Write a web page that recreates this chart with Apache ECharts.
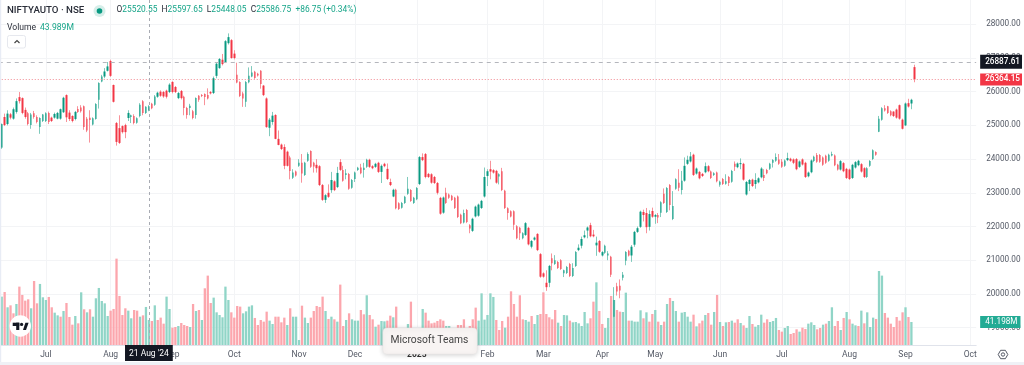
<!DOCTYPE html>
<html>
<head>
<meta charset="utf-8">
<style>html,body{margin:0;padding:0;background:#fff}#c{width:1024px;height:365px;filter:blur(0.35px)}</style>
<script src="https://cdn.jsdelivr.net/npm/echarts@6/dist/echarts.min.js"></script>
</head>
<body>
<div id="c"></div>
<script>
const opens = [
24340,25250,25040,25330,25200,25400,25840,25810,25460,25360,
25010,25360,25250,24950,25130,25130,25370,25230,25230,25200,
25200,25390,25900,25380,25280,25190,25490,25530,25570,25200,
25230,25030,25190,25760,26300,26450,26620,26910,26200,25070,
24920,24980,25010,25220,25250,25280,25080,25280,25720,25370,
25450,25640,25610,25850,26000,25990,26030,25990,26290,26140,
25810,26020,25850,25520,25520,25420,25310,25880,25900,25930,
25900,25990,25960,26470,26700,26950,26880,27440,27530,27130,
26500,26290,25950,25700,26280,26450,26590,26530,26620,26180,
25800,24930,25100,25310,24600,24430,24360,24220,24050,23450,
23630,23800,23890,23530,23950,24240,23890,23830,23790,23230,
22790,23000,23080,23340,23170,23910,23680,23530,23560,23150,
23410,23680,23750,23680,23770,23980,23790,23770,23890,23620,
23860,23710,23320,22890,23090,22690,22560,22700,22970,23080,
22700,22810,23260,24060,24150,23560,23550,23470,23290,22850,
22410,23000,22950,22910,22850,22890,22350,22120,22490,22040,
21870,22300,22320,22550,22890,23500,23700,23670,23650,23480,
23640,23060,22540,22450,22450,22010,21960,21650,21750,21960,
21400,21610,21780,21180,20610,20330,20330,21060,20890,20950,
21000,20610,20620,20890,20530,20830,21300,21430,21680,21880,
22040,21760,21440,21570,21140,21220,21140,21100,19320,20230,
20240,20480,20980,21280,21140,21460,21840,21990,22430,22400,
21990,22460,22290,22340,22410,22970,22430,23230,22220,23120,
23300,23080,23360,23860,23930,24130,23570,23620,23560,23610,
23790,23630,23530,23600,23240,23410,23270,23470,23330,23860,
23760,23850,23860,22950,23260,23390,23260,23310,23460,23530,
23680,23710,23890,23950,23990,23920,23800,23970,24010,23990,
24000,23770,23990,23890,23490,23610,23940,24120,24120,24050,
24100,23950,24110,24110,23830,23690,23880,23710,23690,23440,
23750,23820,23850,23730,23470,23800,24000,24210,24810,25170,
25510,25570,25420,25410,25470,25600,25170,25000,25660,25650,26730];
const closes = [
25040,25010,25350,25230,25480,25720,25720,25370,25250,25040,
25320,25250,25100,25220,25320,25360,25100,25130,25340,25370,
25480,25820,25240,25190,25130,25400,25400,25420,24950,24850,
25160,25210,25635,26260,26450,26600,26750,26470,25700,24510,
24480,24800,24800,25370,25300,25070,25210,25610,25370,25550,
25570,25510,25860,25970,25880,25860,25850,26210,25990,25990,
25960,25810,25520,25310,25580,25220,25810,25760,25870,25840,
25800,25950,26400,26830,26970,26820,27500,27620,27000,27000,
26270,25870,25800,26290,26470,26570,26410,26480,26230,25900,
24950,25170,25290,24600,24420,24300,23800,23800,23650,23600,
23510,23890,23570,23890,24150,23770,23780,23730,23230,22790,
22930,22880,23380,23080,23590,23680,23360,23580,23120,23380,
23600,23740,23580,23740,23980,23770,23730,23860,23620,23800,
23790,23410,23230,23090,22540,22520,22700,22880,23120,22760,
22850,23140,24060,23970,23470,23470,23300,23290,23000,22380,
22860,22700,22850,22790,22550,22280,22100,22400,22130,21940,
22230,22590,22650,22760,23470,23640,23630,23600,23300,23550,
23080,22550,22400,22300,22050,21650,21800,21800,22100,21470,
21570,21670,21300,20510,20510,20200,20830,20910,21000,20770,
20740,20700,20800,20530,20770,21240,21370,21630,21740,21970,
21710,21710,21520,21250,21240,21430,21200,20570,19820,20070,
20100,20570,21240,21140,21400,21840,21950,22440,22340,21980,
22370,22290,22340,22270,22720,22700,23140,22640,22610,23400,
23150,23360,23800,23980,24080,23530,23720,23430,23500,23790,
23640,23440,23580,23340,23330,23260,23340,23290,23650,23770,
23870,23880,23390,23320,23380,23200,23380,23430,23720,23440,
23580,23860,23970,24060,23860,23770,23960,24030,23950,23890,
23700,23930,23840,23470,23600,23960,24070,23920,23920,23830,
23890,24130,24150,23820,23690,23940,23640,23440,23410,23830,
23910,23950,23630,23470,23730,23940,24260,24130,25200,25510,
25440,25370,25300,25280,25230,25200,24900,25650,25560,25760,26364.15];
const lows = [
24300,24980,25000,25180,25170,25350,25650,25330,25200,25000,
24900,25200,25060,24750,25100,25100,25040,25100,25200,25180,
25170,25370,25100,25130,25090,25150,25370,25380,24870,24800,
24490,25000,25170,25500,26280,26400,26600,26440,25680,24400,
24450,24760,24620,25130,25070,25030,25050,25240,25300,25340,
25420,25480,25580,25820,25850,25820,25800,25960,25950,25960,
25780,25770,25300,25200,25300,25180,25200,25700,25840,25600,
25770,25920,25930,26400,26680,26780,26850,27400,26980,26960,
26250,25840,25550,25550,26250,26430,26380,26450,26090,25870,
24930,24680,25020,24590,24410,24270,23700,23780,23400,23410,
23480,23770,23300,23500,23920,23740,23600,23600,23200,22760,
22700,22850,23000,23050,23140,23650,23330,23400,23090,23120,
23320,23650,23550,23450,23740,23740,23700,23740,23590,23290,
23760,23380,23200,22870,22510,22490,22530,22670,22940,22730,
22670,22780,23230,23940,23430,23440,23270,23260,22950,22350,
22380,22670,22820,22760,22520,22250,22070,22090,22100,21800,
21840,22270,22290,22520,22860,23200,23400,23570,23270,23250,
23050,22520,22200,22270,21900,21620,21600,21620,21720,21440,
21350,21580,21270,20480,20480,20090,20200,20700,20860,20740,
20710,20500,20590,20500,20500,20800,21270,21350,21650,21650,
21680,21680,21130,21220,21110,21190,21000,20500,19300,19950,
19870,20400,20850,21110,20950,21400,21810,21960,22150,21800,
21880,22260,22080,22100,22280,22670,22400,22480,22190,23090,
23050,22950,23330,23830,23900,23500,23540,23400,23470,23580,
23610,23410,23500,23310,23180,23230,23240,23200,23300,23650,
23730,23700,23360,22920,23050,23170,23120,23280,23430,23350,
23550,23680,23750,23920,23830,23740,23770,23940,23920,23850,
23670,23740,23810,23440,23460,23580,23910,23890,23890,23800,
23860,23920,24080,23790,23660,23660,23610,23410,23380,23410,
23720,23790,23600,23440,23440,23770,23970,24100,24800,25140,
25410,25340,25270,25250,25200,25170,24880,24980,25530,25480,26280];
const highs = [
25060,25350,25450,25370,25530,25800,25990,25830,25530,25400,
25370,25430,25300,25240,25340,25390,25410,25260,25380,25400,
25500,25850,25920,25450,25300,25430,25570,25600,25590,25250,
25450,25240,25660,26280,26500,26700,26880,26950,26210,25100,
25300,25000,25050,25450,25320,25330,25240,25660,25750,25570,
25600,25670,25900,26000,26040,26020,26060,26250,26310,26170,
25990,26050,25880,25550,25640,25460,25830,25900,25930,25950,
26100,26020,26450,26850,27000,27120,27530,27730,27560,27230,
26860,26310,26000,26320,26720,26760,26620,26560,26640,26200,
25830,25220,25400,25330,24850,24460,24440,24250,24100,23700,
23660,24000,24150,23920,24200,24260,23920,24000,23820,23260,
22960,23250,23620,23370,23770,24000,23800,23700,23590,23410,
23630,23770,23860,23890,24010,24010,23820,23890,23920,23840,
23890,23870,23420,23120,23120,22720,22730,22910,23470,23110,
22880,23170,24090,24170,24180,23590,23580,23500,23320,22880,
22890,23150,22980,22940,22880,22920,22380,22500,22520,22070,
22260,22620,22680,22790,23750,23700,23950,23700,23680,23580,
23740,23090,22570,22480,22480,22040,21990,21830,22130,21990,
21600,21700,21800,21210,20640,20700,20860,21200,21150,20980,
21030,20720,20830,20920,20910,21270,21470,21700,21880,22000,
22110,21900,21700,21600,21270,21460,21270,21130,20200,20330,
20430,20650,21270,21310,21450,21870,22000,22470,22500,22550,
22480,22560,22370,22400,22750,23130,23170,23260,23050,23430,
23700,23650,24050,24100,24210,24160,23750,23650,23590,23900,
23820,23660,23610,23630,23360,23440,23550,23500,23680,23930,
23900,24020,23890,23350,23410,23420,23580,23460,23760,23700,
23710,23890,24000,24170,24150,24000,23990,24190,24040,24020,
24030,23960,24020,23920,23630,23990,24100,24180,24150,24080,
24130,24160,24220,24140,23860,23970,23910,23740,23720,23860,
23940,23980,23880,23760,23760,23970,24290,24230,25280,25540,
25600,25580,25450,25420,25500,25620,25200,25680,25790,25790,26800];
const volumes = [
86.6,94.9,67.5,71.0,56.7,73.4,104.5,89.6,79.4,81.8,65.7,114.6,74.6,109.3,85.4,80.6,86.0,67.5,57.9,53.1,
50.7,60.9,75.2,50.1,36.4,51.9,38.8,94.3,63.9,58.5,63.9,50.7,83.6,102.1,78.8,74.6,51.9,61.5,64.5,154.6,
87.8,53.7,65.7,61.5,47.8,62.7,61.5,50.7,53.1,68.1,44.8,43.0,71.0,44.8,49.0,38.2,86.6,64.5,31.0,32.2,
34.0,39.4,35.8,34.0,32.2,73.4,60.9,62.7,44.8,101.5,124.2,75.2,84.8,58.5,53.7,49.6,104.5,80.6,58.5,49.0,
69.8,68.7,56.7,60.3,68.7,71.0,48.4,35.8,44.8,41.8,59.7,43.6,37.6,50.7,50.7,40.6,49.0,35.8,65.7,50.7,
50.7,9.0,70.4,49.0,39.4,49.0,60.9,69.8,68.1,86.6,60.9,46.6,50.7,46.0,41.8,
108.1,34.0,44.8,56.7,46.0,43.6,43.6,62.7,54.9,89.0,53.7,46.0,32.8,36.4,43.0,42.4,43.6,52.5,49.6,68.7,
26.9,26.9,26.9,37.6,77.6,26.9,26.9,26.9,64.5,57.9,43.6,38.8,40.0,43.0,46.0,43.6,34.0,34.0,28.1,28.1,
35.8,35.8,46.0,28.1,34.0,46.0,66.9,43.6,92.5,45.4,53.7,92.5,86.0,44.8,26.9,43.0,31.0,50.7,96.1,73.4,
50.7,89.0,46.0,44.8,41.8,51.9,37.6,53.7,55.5,94.3,55.5,49.6,46.0,62.7,40.0,34.0,53.7,53.1,43.6,40.6,
41.2,38.8,34.0,59.1,38.8,47.8,77.6,112.2,60.9,37.6,30.4,48.4,87.8,80.6,62.7,59.7,59.1,93.7,43.6,43.6,
41.8,41.8,62.1,47.8,58.5,41.8,55.5,62.7,41.8,35.8,41.8,73.4,84.2,78.8,60.9,41.8,
57.9,59.1,50.7,41.8,54.3,33.4,38.8,43.6,53.7,57.3,36.4,59.1,89.6,41.2,34.0,40.6,41.2,43.6,40.0,46.0,
39.4,35.2,30.4,51.9,37.6,32.8,35.8,54.3,40.0,46.0,41.2,43.0,48.4,26.9,23.9,30.4,34.0,19.7,21.5,28.1,
23.9,31.0,28.7,38.2,40.6,35.8,28.1,30.4,36.4,38.2,43.0,67.5,34.0,43.0,26.9,48.4,59.1,46.0,38.2,35.2,
34.0,61.5,38.8,58.5,32.2,49.0,46.6,132.5,124.2,57.3,49.0,38.2,32.2,50.1,43.6,58.5,67.5,50.1,41.198];
const volumeSides = (
'GRGRRGRRRRGRRGGGRRGGRGRRRGRGRGRGGGGGGRRRRRRGGRRGRGGRGRRRGGRRGRRRGRGRGRRRGGGGGGRRRRGGGGRRRRRGGRRRRGRGGGRGGRRRRRGRGRG' +
'RRGRGGGRRGRRGRGGRRGRRRRGRRRRGRRRRRRRGGRRRRRRRRRGGGGGGRRRGRRRRRRGGRGGRRRRRRGRGGRGGGGGGRRGRRGGRGRRGGRGGGGRGRRGRGRGRGGR' +
'GGGGRGRRGRRGRGRGRGRRGRGGRGGGRRGGGRRGGRRRGRRGGGRRGRGGRRGRGRGGRGRGGGRGGRRRRRRRGRG').split('');

const priceTicks = { min: 18000, max: 29000, step: 1000 };
const monthLabels = ['Jul','Aug','Sep','Oct','Nov','Dec','2025','Feb','Mar','Apr','May','Jun','Jul','Aug','Sep','Oct'];
const monthSlots = [16,38,59,80,102,121,142,166,185,205,223,245,266,289,308,330];
const headline = '{d|O}{g|25520.55}  {d|H}{g|25597.65}  {d|L}{g|25448.05}  {d|C}{g|25586.75}  {g|+86.75 (+0.34%)}';
const crosshairSlot = 51, crosshairLabel = "21 Aug '24";
const lastPrice = 26364.15, crosshairPrice = 26887.61, lastVolume = 41.198;

const SLOT = 2.944, SLOTS = 333, LEFT = 1.7 - SLOT;
const categories = new Array(SLOTS).fill('');
monthSlots.forEach((s, k) => { categories[s] = monthLabels[k]; });
const blank = '-';
const wicks = [blank].concat(opens.map((o, i) => [o, closes[i], lows[i], highs[i]]));
const bodies = [blank].concat(opens.map((o, i) => [o, closes[i], Math.min(o, closes[i]), Math.max(o, closes[i])]));
const volumeData = [blank].concat(volumes);

const UP = '#089981', DOWN = '#f23645', UP_WICK = '#7fcabc', DOWN_WICK = '#f8929a';
const VOL_UP = '#90d5c7', VOL_DOWN = '#fca6ad';
const TXT = '#555a66', FONT = 'Roboto';
const W = SLOT * (SLOTS - 1);

const chart = echarts.init(document.getElementById('c'), null, { renderer: 'canvas' });
chart.setOption({
  animation: false,
  backgroundColor: '#ffffff',
  grid: [
    { left: LEFT, width: W, top: -9.4, height: 370.7, outerBoundsMode: 'none' },
    { left: LEFT, width: W, top: 0, height: 345, outerBoundsMode: 'none' }
  ],
  xAxis: [
    { type: 'category', gridIndex: 0, data: categories, boundaryGap: false, show: false },
    { type: 'category', gridIndex: 1, data: categories, boundaryGap: false,
      axisLine: { lineStyle: { color: '#e0e3eb', width: 1 } },
      axisTick: { show: false },
      axisLabel: {
        interval: (i) => categories[i] !== '',
        hideOverlap: false,
        color: TXT, fontFamily: FONT, fontSize: 8.5, margin: 5,
        formatter: (v) => v === '2025' ? '{b|2025}' : v,
        rich: { b: { fontWeight: 'bold', fontSize: 8.5, color: '#333', fontFamily: FONT } }
      },
      splitLine: { show: true, interval: (i) => categories[i] !== '', lineStyle: { color: '#f3f4f6', width: 1 } }
    }
  ],
  yAxis: [
    { type: 'value', gridIndex: 0, position: 'right', min: priceTicks.min, max: priceTicks.max, interval: priceTicks.step,
      axisLine: { show: false }, axisTick: { show: false },
      splitLine: { show: true, showMinLine: false, showMaxLine: false, lineStyle: { color: '#f3f4f6', width: 1 } },
      axisLabel: { showMinLabel: false, showMaxLabel: false, margin: 10, color: TXT, fontFamily: FONT, fontSize: 8.2,
        padding: [2, 0, 0, 0], formatter: (v) => v.toFixed(2) } },
    { type: 'value', gridIndex: 1, position: 'right', min: 0, max: 617.55, show: false, splitLine: { show: false } }
  ],
  series: [
    { type: 'bar', name: 'Volume', xAxisIndex: 1, yAxisIndex: 1, data: volumeData, barWidth: 2.3, z: 1,
      itemStyle: { color: (p) => volumeSides[p.dataIndex - 1] === 'G' ? VOL_UP : VOL_DOWN },
      markLine: {
        silent: true, symbol: 'none', animation: false, z: 20,
        data: [
          { xAxis: crosshairSlot,
            lineStyle: { color: '#a8abb3', type: [3, 3], width: 1 },
            label: { show: true, position: 'start', distance: 0, formatter: crosshairLabel, color: '#fff',
              backgroundColor: '#131722', fontFamily: FONT, fontSize: 8.5, padding: [4, 4, 3, 4] } },
          { yAxis: lastVolume,
            lineStyle: { color: 'rgba(255,255,255,0)', width: 1 },
            label: { show: true, position: 'end', distance: 4, formatter: '41.198M', color: '#fff',
              backgroundColor: '#22ab94', fontFamily: FONT, fontSize: 8.2, padding: [2, 3, 2, 5] } }
        ]
      } },
    { type: 'candlestick', name: 'NIFTYAUTO wicks', xAxisIndex: 0, yAxisIndex: 0, data: wicks, barWidth: 1, z: 3,
      itemStyle: { color: UP_WICK, color0: DOWN_WICK, borderColor: UP_WICK, borderColor0: DOWN_WICK, borderWidth: 1 },
      markLine: {
        silent: true, symbol: 'none', animation: false,
        data: [
          { yAxis: crosshairPrice,
            lineStyle: { color: '#b4b6bc', type: [4, 4], width: 1 },
            label: { show: true, position: 'end', distance: 4, formatter: '26887.61', color: '#fff',
              backgroundColor: '#131722', fontFamily: FONT, fontSize: 8.2, fontWeight: 500, padding: [3, 2, 3, 5] } },
          { yAxis: lastPrice,
            lineStyle: { color: '#f08a92', type: [1, 2], width: 1 },
            label: { show: true, position: 'end', distance: 4, formatter: '26364.15', color: '#fff',
              backgroundColor: DOWN, fontFamily: FONT, fontSize: 8.2, fontWeight: 500, padding: [2, 2, 2, 5] } }
        ]
      } },
    { type: 'candlestick', name: 'NIFTYAUTO', xAxisIndex: 0, yAxisIndex: 0, data: bodies, barWidth: 2, z: 4,
      itemStyle: { color: UP, color0: DOWN, borderColor: UP, borderColor0: DOWN, borderWidth: 0 } }
  ],
  graphic: { elements: [
    { type: 'rect', shape: { x: 0, y: 0, width: 1.2, height: 362 }, style: { fill: '#e8ecf5' }, silent: true, z: 50 },
    { type: 'rect', shape: { x: 0, y: 362, width: 1024, height: 3 }, style: { fill: '#eff1f6' }, silent: true, z: 50 },
    { type: 'text', x: 7, y: 6, z: 60, style: { text: 'NIFTYAUTO · NSE', fill: '#2a2e39', font: '500 9.7px ' + FONT } },
    { type: 'circle', shape: { cx: 99.5, cy: 11, r: 6 }, style: { fill: '#d6eee9' }, z: 60 },
    { type: 'circle', shape: { cx: 99.5, cy: 11, r: 2.8 }, style: { fill: UP }, z: 61 },
    { type: 'text', x: 116.5, y: 6, z: 60, style: { text: headline, font: '8.4px ' + FONT,
        rich: { d: { fill: '#2a2e39', fontSize: 8.4, fontFamily: FONT }, g: { fill: '#17a589', fontSize: 8.4, fontFamily: FONT } } } },
    { type: 'text', x: 7, y: 23, z: 60, style: { text: 'Volume', fill: '#2a2e39', font: '8.6px ' + FONT } },
    { type: 'text', x: 40, y: 23, z: 60, style: { text: '43.989M', fill: '#17a589', font: '8.6px ' + FONT } },
    { type: 'rect', shape: { x: 7.5, y: 35.5, width: 18, height: 12.5, r: 2 }, style: { fill: '#fff', stroke: '#e6e8ee' }, z: 60 },
    { type: 'polyline', shape: { points: [[14.5, 43], [17, 40.5], [19.5, 43]] }, style: { stroke: '#444', lineWidth: 1.2, fill: 'none' }, z: 61 },
    { type: 'circle', shape: { cx: 20.3, cy: 326, r: 10.7 }, style: { fill: '#fff' }, z: 60 },
    { type: 'rect', shape: { x: 12.7, y: 322.7, width: 6.6, height: 3.3 }, style: { fill: '#131722' }, z: 61 },
    { type: 'rect', shape: { x: 16.2, y: 322.7, width: 3.1, height: 7.3 }, style: { fill: '#131722' }, z: 61 },
    { type: 'circle', shape: { cx: 21.6, cy: 324.4, r: 1.6 }, style: { fill: '#131722' }, z: 61 },
    { type: 'polygon', shape: { points: [[23, 330], [25.4, 322.7], [28.6, 322.7], [26, 330]] }, style: { fill: '#131722' }, z: 61 },
    { type: 'polygon', shape: { points: [[998.2, 354.5], [1000.6, 350.3], [1005.4, 350.3], [1007.8, 354.5], [1005.4, 358.7], [1000.6, 358.7]] }, style: { fill: 'none', stroke: '#555a66', lineWidth: 1 }, z: 60 },
    { type: 'circle', shape: { cx: 1003, cy: 354.5, r: 1.7 }, style: { fill: 'none', stroke: '#555a66', lineWidth: 1 }, z: 60 },
    { type: 'rect', shape: { x: 383, y: 328, width: 94, height: 26, r: 4 },
      style: { fill: '#f8f4f3', stroke: '#ebe7e6', lineWidth: 0.5, shadowBlur: 5, shadowColor: 'rgba(0,0,0,0.18)', shadowOffsetY: 1 }, z: 70 },
    { type: 'text', x: 390.5, y: 335, z: 71, style: { text: 'Microsoft Teams', fill: '#444', font: '10.3px ' + FONT } }
  ] }
});
</script>
</body>
</html>
